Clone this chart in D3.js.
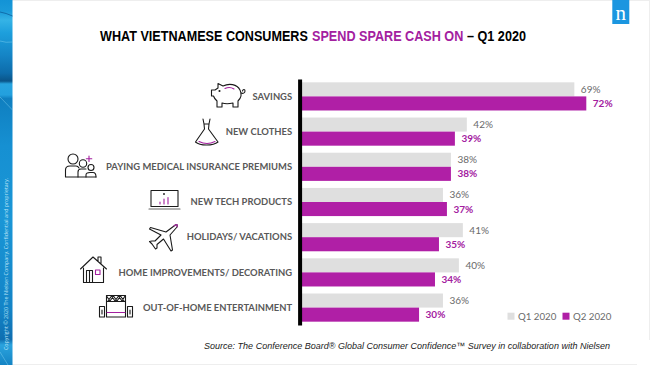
<!DOCTYPE html>
<html>
<head>
<meta charset="utf-8">
<script src="https://cdn.jsdelivr.net/npm/d3@7"></script>
<style>
html, body { margin: 0; padding: 0; background: #fff; }
svg { display: block; }
.tick text { font-family: Lato, sans-serif; font-weight: 700; font-size: 10px; fill: #595959; }
.val { font-family: Lato, sans-serif; font-size: 10px; }
.icon path, .icon circle, .icon rect, .icon line { fill: none; stroke: #1a1a1a; stroke-width: 1.1; stroke-linejoin: round; stroke-linecap: round; }
.icon .pk { stroke: #a3209f; }
.icon .gr { stroke: #666; }
</style>
</head>
<body>
<div id="chart"></div>
<script>
const categories = ["SAVINGS", "NEW CLOTHES", "PAYING MEDICAL INSURANCE PREMIUMS", "NEW TECH PRODUCTS", "HOLIDAYS/ VACATIONS", "HOME IMPROVEMENTS/ DECORATING", "OUT-OF-HOME ENTERTAINMENT"];
const q1Values = [69, 42, 38, 36, 41, 40, 36];
const q2Values = [72, 39, 38, 37, 35, 34, 30];
const seriesNames = ["Q1 2020", "Q2 2020"];
const titleParts = ["WHAT VIETNAMESE CONSUMERS", "SPEND SPARE CASH ON", "– Q1 2020"];
const sourceText = "Source: The Conference Board® Global Consumer Confidence™ Survey in collaboration with Nielsen";
const copyrightText = "Copyright © 2020 The Nielsen Company. Confidential and proprietary.";

const width = 650, height = 365;
const grey = "#dfdfdf", purple = "#b01fa6";

const svg = d3.select("#chart").append("svg").attr("width", width).attr("height", height);
const defs = svg.append("defs");

// faint slide border
svg.append("rect").attr("x", 0).attr("y", 0).attr("width", width).attr("height", 1).attr("fill", "#eee");
svg.append("rect").attr("x", 649).attr("y", 0).attr("width", 1).attr("height", 340).attr("fill", "#eee");
svg.append("rect").attr("x", 12).attr("y", 364).attr("width", 625).attr("height", 1).attr("fill", "#eee");

// left stripe
const grad = defs.append("linearGradient").attr("id", "stripe").attr("x1", 0).attr("x2", 0).attr("y1", 0).attr("y2", 1);
[[0, "#1393d6"], [0.03, "#1a9ad9"], [0.055, "#35b3e6"], [0.09, "#1d9fdc"], [0.15, "#1585c6"], [0.2, "#0d6cab"], [0.222, "#0a5488"], [0.23, "#27a3df"], [0.26, "#23a0de"], [0.27, "#0f7fc0"], [0.4, "#1690d2"], [0.6, "#1a96d6"], [0.85, "#1383c6"], [0.93, "#0f6eb0"], [0.945, "#2ba3de"], [1, "#1484c4"]]
    .forEach(s => grad.append("stop").attr("offset", s[0]).attr("stop-color", s[1]));
svg.append("rect").attr("x", 0).attr("y", 0).attr("width", 12.5).attr("height", height).attr("fill", "url(#stripe)");
const streaks = svg.append("g").attr("fill", "none").attr("stroke", "#8fdaf6").attr("stroke-opacity", 0.4);
["M0,97 L12.5,110", "M0,41 Q6,43 12.5,42", "M0,352 L8,365"]
    .forEach(d => streaks.append("path").attr("d", d));
svg.append("path").attr("d", "M0,12 Q6,13 12.5,16").attr("fill", "none").attr("stroke", "#0b5f9c").attr("stroke-opacity", 0.8);
svg.append("text")
    .attr("transform", "translate(8,350) rotate(-90)")
    .attr("font-family", "'Open Sans', sans-serif").attr("font-size", 5.4)
    .attr("fill", "#bfe6f8").attr("textLength", 172).attr("lengthAdjust", "spacingAndGlyphs")
    .text(copyrightText);

// logo
svg.append("rect").attr("x", 612.3).attr("y", 0).attr("width", 17).attr("height", 24).attr("fill", "#1b96e0");
svg.append("text").attr("x", 620.8).attr("y", 20).attr("text-anchor", "middle")
    .attr("font-family", "'Liberation Serif', serif").attr("font-size", 21).attr("fill", "#fff").text("n");

// title, three pieces squeezed sideways to the reference widths
const titleX = [[100, 208], [312, 151.5], [467, 59]];
const titleColor = ["#000", "#a3209f", "#000"];
titleParts.forEach((t, i) => {
    const el = svg.append("text")
        .attr("font-family", "'Liberation Sans', Arial, sans-serif").attr("font-weight", 700).attr("font-size", 15.5)
        .attr("fill", titleColor[i]).text(t);
    const sx = titleX[i][1] / el.node().getComputedTextLength();
    el.attr("transform", `translate(${titleX[i][0]},41) scale(${sx},1)`);
});

// scales
const x = d3.scaleLinear().domain([0, 72]).range([299.6, 586.3]);
const y = d3.scaleBand().domain(categories).range([79, 325]).paddingInner(0.2).paddingOuter(0.0945);
const barH = y.bandwidth() / 2;

const rows = svg.append("g").selectAll("g").data(categories).join("g")
    .attr("transform", d => `translate(0,${y(d)})`);

rows.append("rect").attr("x", x(0)).attr("y", 0).attr("height", barH)
    .attr("width", (d, i) => x(q1Values[i]) - x(0)).attr("fill", grey);
rows.append("rect").attr("x", x(0)).attr("y", barH).attr("height", barH)
    .attr("width", (d, i) => x(q2Values[i]) - x(0)).attr("fill", purple);

rows.append("text").attr("class", "val")
    .attr("x", (d, i) => x(q1Values[i]) + 6.5).attr("y", barH / 2 + 3.5)
    .attr("fill", "#6a6a6a").text((d, i) => q1Values[i] + "%");
rows.append("text").attr("class", "val")
    .attr("x", (d, i) => x(q2Values[i]) + 6.5).attr("y", barH * 1.5 + 3.5)
    .attr("fill", "#a3209f").attr("font-weight", 700).text((d, i) => q2Values[i] + "%");

// category axis, thick black line on the left of the bars
const axis = svg.append("g").attr("transform", `translate(${x(0)},0)`)
    .call(d3.axisLeft(y).tickSize(0).tickSizeOuter(0).tickPadding(7.5));
axis.select(".domain").attr("stroke", "#000").attr("stroke-width", 4);
// Lato runs wider than the slide font
axis.selectAll(".tick text")
    .attr("textLength", function() { return this.getComputedTextLength() * 0.94; })
    .attr("lengthAdjust", "spacingAndGlyphs");

// legend
const legendX = [507.5, 562.5];
seriesNames.forEach((name, i) => {
    svg.append("rect").attr("x", legendX[i]).attr("y", 312.7).attr("width", 7).attr("height", 7)
        .attr("fill", i ? purple : grey);
    svg.append("text").attr("x", legendX[i] + 10.5).attr("y", 320)
        .attr("font-family", "Lato, sans-serif").attr("font-size", 9.7).attr("fill", "#6a6a6a").text(name);
});

// source
svg.append("text").attr("x", 204).attr("y", 349)
    .attr("font-family", "'Liberation Sans', Arial, sans-serif").attr("font-style", "italic").attr("font-size", 9)
    .attr("fill", "#222").attr("textLength", 406).attr("lengthAdjust", "spacing")
    .text(sourceText);

// icons, drawn by hand
function icon(tx, ty) {
    return svg.append("g").attr("class", "icon").attr("transform", `translate(${tx},${ty})`);
}
function paths(g, list, cls) {
    list.forEach(d => g.append("path").attr("d", d).attr("class", cls || null));
}

// piggy
const pig = icon(211, 83);
paths(pig, [
    "M7,5 L7,0.5 L12,3 C18,0 26,1 29,7 C31,11 30,15 27,18 L27,24 L22,24 L22,20 C18,21 14,21 11,20 L11,24 L6,24 L6,18 C4,16 3,15 2.5,13 L0.5,13 L0.5,7 L4,7 Z",
    "M30,10 C32,11 34,10 34,8 C34,6 32,6 31.5,8"
]);
pig.append("circle").attr("cx", 8.5).attr("cy", 8).attr("r", 0.5);
paths(pig, ["M14,5.5 C17,4 20,4 23,6"], "pk");

// dress
const dress = icon(195, 118);
paths(dress, [
    "M8,1 L9,6 L14,6 L15,1 M9,6 L9.5,11 L0.5,24 C5,28 18,28 23,24 L13.5,11 L14,6"
]);
paths(dress, ["M4,23.5 C9,26 15,26 20,23.5"], "pk");

// people
const people = icon(65, 153);
people.append("circle").attr("cx", 8).attr("cy", 6).attr("r", 5);
people.append("circle").attr("cx", 18).attr("cy", 10.5).attr("r", 3.7);
people.append("circle").attr("cx", 26).attr("cy", 14.5).attr("r", 3);
paths(people, [
    "M0.5,24 L0.5,17 C0.5,14 3,13 5,13 L11,13 C13,13 13.5,14 14,15 M0.5,24 L31,24",
    "M13,24 L13,19 C13,17 14.5,16 16,16 L21,16 M21,24 L21,22 C21,20 23,19.5 25,19.5 L28,19.5 C30,19.5 31,21 31,24"
]);
paths(people, ["M24,3 L24,8.5 M21.3,5.7 L26.8,5.7"], "pk");

// laptop
const laptop = icon(149, 190);
laptop.append("rect").attr("x", 2).attr("y", 0.5).attr("width", 27).attr("height", 16);
laptop.append("line").attr("class", "gr").attr("x1", 0).attr("x2", 31).attr("y1", 19).attr("y2", 19).attr("stroke-width", 1.6);
paths(laptop, ["M11,14 L11,12 M15,14 L15,9 M19,14 L19,7.5"], "pk");
laptop.append("circle").attr("cx", 15).attr("cy", 4).attr("r", 0.4);

// plane
const plane = icon(149, 223);
paths(plane, [
    "M25,3 C27,1 29,1 28,4 L21,12 L23.5,27 L22,28 L14.5,16 L8,21.5 L8,25 L6.5,26 L3,21 L0.5,18.5 L3,18 L6,18 L12,12 L0.5,6 L1.5,4.5 L17,9 Z"
]);
paths(plane, ["M25,3 C27,1 29,1 28,4"], "pk");

// house
const house = icon(80, 256);
paths(house, [
    "M0.5,13 L13,1 L26.5,13 M3.5,12 L3.5,26.5 L23.5,26.5 L23.5,12 M18,5 L18,1 L21,1 L21,8",
    "M6.5,26.5 L6.5,14.5 L12.5,14.5 L12.5,26.5 M9.5,14.5 L9.5,26.5"
]);
house.append("rect").attr("class", "pk").attr("x", 15.5).attr("y", 14).attr("width", 4.5).attr("height", 4.5);

// stage
const stage = icon(99, 295);
stage.append("rect").attr("x", 7.5).attr("y", 0.5).attr("width", 19).attr("height", 21.5);
stage.append("rect").attr("x", 0.5).attr("y", 11.5).attr("width", 5).attr("height", 10.5);
stage.append("rect").attr("x", 28.5).attr("y", 11.5).attr("width", 5).attr("height", 10.5);
paths(stage, ["M7.5,6.5 L26.5,6.5 M7.5,1 L11,6 L14.5,1 L18,6 L21.5,1 L25,6 M9,6 L12.5,1 L16,6 L19.5,1 L23,6 L26,1", "M3,15 L3,19 M31,15 L31,19"]);
paths(stage, ["M8,17.5 L26,17.5"], "pk");
</script>
</body>
</html>
